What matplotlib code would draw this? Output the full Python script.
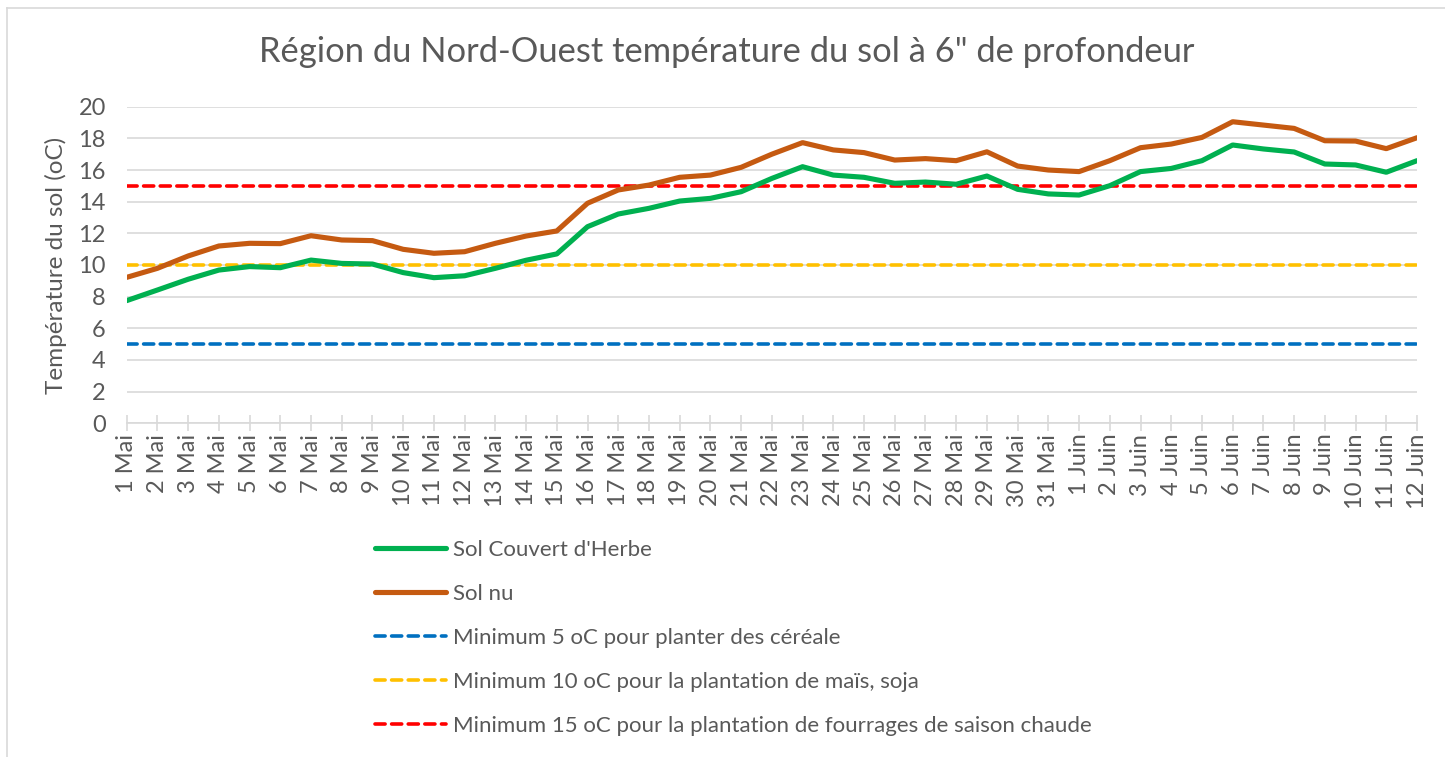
import matplotlib
matplotlib.use("Agg")
import matplotlib.pyplot as plt
from matplotlib.lines import Line2D

plt.rcParams['font.family'] = ['Lato', 'DejaVu Sans']

# ---- data ----
dates = [f"{d} Mai" for d in range(1, 32)] + [f"{d} Juin" for d in range(1, 13)]
herbe = [7.75, 8.42, 9.1, 9.68, 9.9, 9.83, 10.31, 10.1, 10.06, 9.52, 9.2, 9.32, 9.79, 10.3, 10.7,
         12.42, 13.22, 13.58, 14.04, 14.21, 14.63, 15.47, 16.21, 15.68, 15.54, 15.16, 15.24, 15.1,
         15.62, 14.78, 14.49, 14.42, 15.01, 15.9, 16.1, 16.59, 17.58, 17.33, 17.14, 16.38, 16.32,
         15.86, 16.59]
nu = [9.22, 9.79, 10.57, 11.2, 11.37, 11.35, 11.85, 11.58, 11.54, 10.99, 10.74, 10.84, 11.37, 11.83,
      12.15, 13.9, 14.74, 15.05, 15.54, 15.68, 16.17, 17.0, 17.73, 17.27, 17.1, 16.63, 16.72, 16.59,
      17.15, 16.25, 16.0, 15.9, 16.59, 17.41, 17.64, 18.06, 19.05, 18.84, 18.63, 17.85, 17.83, 17.35,
      18.04]
seuils = [5, 10, 15]
series_names = ["Sol Couvert d'Herbe", "Sol nu"]
seuil_names = ["Minimum 5 oC pour planter des céréale",
               "Minimum 10 oC pour la plantation de maïs, soja",
               "Minimum 15 oC pour la plantation de fourrages de saison chaude"]
title = "Région du Nord-Ouest température du sol à 6\" de profondeur"
ylabel = "Température du sol (oC)"
yticks = list(range(0, 21, 2))

# ---- styling ----
W, H = 1445, 757
TXT = '#595959'
GRID = '#d9d9d9'
fig = plt.figure(figsize=(W / 100, H / 100), dpi=100)

# outer frame (left and top edges visible)
fig.add_artist(Line2D([7 / W, 7 / W], [0, 1 - 8 / H], color=GRID, lw=1.2, transform=fig.transFigure))
fig.add_artist(Line2D([7 / W, 1], [1 - 8 / H, 1 - 8 / H], color=GRID, lw=1.2, transform=fig.transFigure))

x0, x1 = 126.7, 1417
y_top, y_bot = 106.7, 423.3
ax = fig.add_axes([x0 / W, 1 - y_bot / H, (x1 - x0) / W, (y_bot - y_top) / H])

x = list(range(len(dates)))
ax.set_xlim(0, len(dates) - 1)
ax.set_ylim(0, 20)

for s in ['top', 'right', 'left']:
    ax.spines[s].set_visible(False)
ax.spines['bottom'].set_color(GRID)
ax.spines['bottom'].set_linewidth(1.2)

ax.set_yticks(yticks)
ax.yaxis.grid(True, color=GRID, lw=1.2)
ax.set_axisbelow(True)
ax.tick_params(axis='y', length=0, labelsize=17, labelcolor=TXT, pad=15)
ax.set_xticks(x)
ax.set_xticklabels(dates, rotation=90)
ax.tick_params(axis='x', direction='inout', length=11, width=1.2, color=GRID,
               labelsize=17, labelcolor=TXT, pad=2)

colors = ['#00b050', '#c55a11']
handles = []
for vals, c, name in zip([herbe, nu], colors, series_names):
    h, = ax.plot(x, vals, color=c, lw=3.7, solid_capstyle='round', solid_joinstyle='round',
                 label=name, zorder=3)
    handles.append(h)

seuil_colors = ['#0070c0', '#ffc000', '#ff0000']
for v, c, name in zip(seuils, seuil_colors, seuil_names):
    h, = ax.plot([x[0], x[-1]], [v, v], color=c, lw=2.6, dashes=(2.8, 1.8),
                 dash_capstyle='round', label=name, zorder=2)
    handles.append(h)

ax.set_ylabel(ylabel, fontsize=17.5, color=TXT, labelpad=8)
fig.text(0.503, 1 - 52 / H, title, ha='center', va='center', fontsize=24.8, color=TXT)

leg = fig.legend(handles=handles, loc='upper left', bbox_to_anchor=(364 / W, 1 - 529 / H),
                 frameon=False, fontsize=16, handlelength=3.2, handletextpad=0.3,
                 labelspacing=1.08, borderpad=0)
for t in leg.get_texts():
    t.set_color(TXT)

fig.savefig('out.png', dpi=100)
